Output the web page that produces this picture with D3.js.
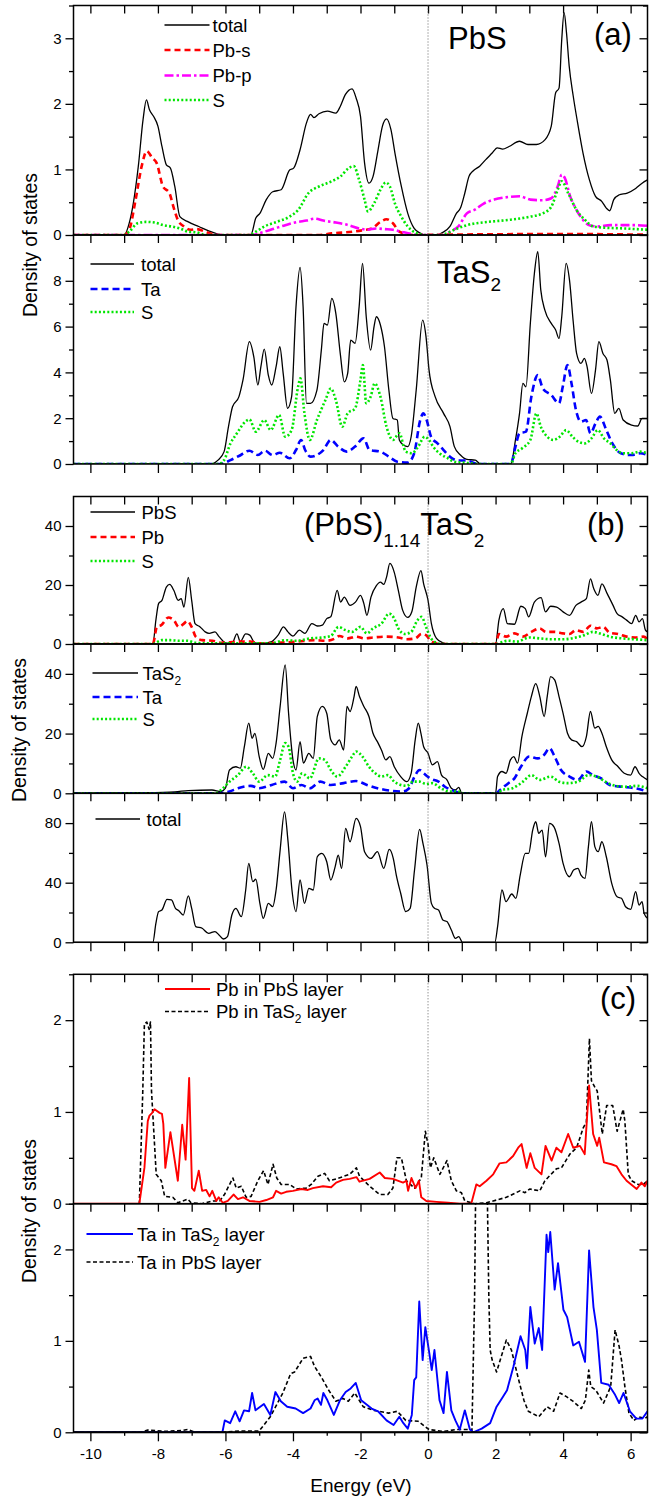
<!DOCTYPE html>
<html>
<head>
<meta charset="utf-8">
<script src="https://cdn.jsdelivr.net/npm/d3@7"></script>
<style>
  body { margin: 0; background: #fff; }
  svg { display: block; font-family: "Liberation Sans", Arial, sans-serif; }
</style>
</head>
<body>
<svg id="chart" width="663" height="1496"></svg>
<script>
// ---- data: [energy (eV), density of states] ----

// (a) PbS
const pbsTotal = [[-10.5,0],[-9.0,0],[-8.85,0.18],[-8.73,0.48],[-8.58,1.05],[-8.44,1.76],[-8.34,2.06],[-8.25,1.91],[-8.13,1.81],[-8.0,1.66],[-7.88,1.35],[-7.75,1.07],[-7.63,1.02],[-7.5,0.74],[-7.35,0.28],[-7.1,0.2],[-6.79,0.13],[-6.48,0.06],[-6.23,0.015],[-6.1,0],[-5.25,0],[-5.1,0.26],[-4.98,0.33],[-4.79,0.54],[-4.6,0.66],[-4.35,0.69],[-4.1,0.99],[-3.98,1.02],[-3.79,1.3],[-3.6,1.71],[-3.48,1.84],[-3.38,1.79],[-3.23,1.85],[-2.98,1.89],[-2.73,1.86],[-2.6,1.96],[-2.45,2.14],[-2.25,2.23],[-2.13,2.09],[-2.0,1.81],[-1.88,1.1],[-1.75,0.79],[-1.63,0.89],[-1.48,1.3],[-1.35,1.66],[-1.23,1.77],[-1.1,1.61],[-0.98,1.25],[-0.79,0.74],[-0.6,0.33],[-0.41,0.1],[-0.23,0.03],[-0.1,0],[0.3,0],[0.4,0.03],[0.65,0.13],[0.84,0.33],[0.96,0.41],[1.09,0.64],[1.21,0.89],[1.34,0.98],[1.53,1.05],[1.71,1.15],[1.9,1.25],[2.05,1.33],[2.21,1.31],[2.4,1.35],[2.71,1.43],[2.96,1.38],[3.21,1.38],[3.46,1.45],[3.65,1.66],[3.78,2.17],[3.88,2.24],[3.96,2.98],[4.03,3.39],[4.1,3.09],[4.18,2.58],[4.3,2.12],[4.43,1.71],[4.59,1.25],[4.78,0.84],[4.96,0.59],[5.15,0.51],[5.28,0.41],[5.38,0.37],[5.5,0.54],[5.65,0.61],[5.9,0.64],[6.15,0.71],[6.34,0.79],[6.5,0.84]];
const pbsPbS = [[-10.5,0],[-9.0,0],[-8.85,0.08],[-8.66,0.54],[-8.48,1.05],[-8.33,1.28],[-8.16,1.17],[-8.04,1.1],[-7.85,0.74],[-7.66,0.64],[-7.54,0.43],[-7.41,0.23],[-7.23,0.13],[-7.04,0.08],[-6.85,0.09],[-6.6,0.05],[-6.35,0.01],[-6.2,0],[-3.2,0],[-2.85,0.025],[-2.23,0.05],[-1.85,0.08],[-1.66,0.1],[-1.41,0.2],[-1.23,0.24],[-1.04,0.18],[-0.85,0.05],[-0.6,0.01],[-0.4,0],[0.5,0.005],[4.0,0.015],[6.5,0.005]];
const pbsPbP = [[-10.5,0],[-5.2,0],[-4.98,0.03],[-4.6,0.09],[-4.23,0.15],[-3.85,0.2],[-3.6,0.22],[-3.35,0.25],[-3.1,0.22],[-2.73,0.19],[-2.35,0.15],[-2.04,0.1],[-1.79,0.08],[-1.54,0.1],[-1.29,0.09],[-1.04,0.08],[-0.79,0.05],[-0.48,0.015],[-0.3,0],[0.45,0],[0.65,0.05],[0.9,0.13],[1.15,0.33],[1.4,0.39],[1.65,0.48],[1.96,0.54],[2.4,0.58],[2.71,0.59],[3.03,0.54],[3.4,0.53],[3.65,0.56],[3.84,0.74],[3.96,0.92],[4.05,0.87],[4.21,0.59],[4.4,0.38],[4.59,0.23],[4.78,0.15],[5.03,0.13],[5.4,0.15],[5.78,0.15],[6.15,0.15],[6.5,0.14]];
const pbsS = [[-10.5,0],[-9.0,0],[-8.85,0.05],[-8.6,0.18],[-8.35,0.2],[-8.1,0.19],[-7.85,0.15],[-7.6,0.13],[-7.35,0.1],[-7.1,0.05],[-6.85,0.04],[-6.6,0],[-5.3,0],[-5.1,0.05],[-4.85,0.13],[-4.48,0.2],[-4.1,0.28],[-3.85,0.38],[-3.54,0.64],[-3.23,0.74],[-2.85,0.82],[-2.6,0.89],[-2.35,1.02],[-2.2,1.05],[-2.04,0.84],[-1.88,0.54],[-1.78,0.36],[-1.6,0.48],[-1.41,0.69],[-1.25,0.8],[-1.13,0.74],[-0.98,0.48],[-0.79,0.28],[-0.6,0.13],[-0.35,0.03],[-0.1,0],[0.35,0],[0.53,0.02],[0.78,0.08],[1.15,0.15],[1.78,0.2],[2.4,0.23],[3.03,0.28],[3.4,0.33],[3.65,0.43],[3.84,0.69],[3.96,0.82],[4.15,0.64],[4.4,0.38],[4.65,0.23],[4.9,0.13],[5.28,0.11],[5.78,0.1],[6.15,0.09],[6.5,0.08]];

// (a) TaS2
const tas2Total = [[-10.5,0],[-6.45,0],[-6.22,0.17],[-6.04,0.54],[-5.91,1.63],[-5.79,2.5],[-5.6,2.94],[-5.48,3.67],[-5.29,5.34],[-5.16,4.68],[-5.04,3.45],[-4.95,4.25],[-4.85,5.02],[-4.73,3.88],[-4.63,3.45],[-4.5,4.25],[-4.39,5.12],[-4.29,3.96],[-4.16,2.43],[-4.04,2.94],[-3.91,6.87],[-3.79,8.58],[-3.7,6.87],[-3.6,2.65],[-3.48,2.65],[-3.29,3.23],[-3.16,4.97],[-3.08,6.14],[-2.98,6.07],[-2.85,7.23],[-2.73,6.57],[-2.6,4.83],[-2.48,3.59],[-2.38,3.96],[-2.29,5.41],[-2.16,5.27],[-2.04,6.87],[-1.94,8.76],[-1.83,6.43],[-1.7,4.97],[-1.6,5.99],[-1.53,6.43],[-1.41,6.07],[-1.29,5.12],[-1.16,3.23],[-1.04,1.99],[-0.91,1.92],[-0.85,1.05],[-0.73,0.83],[-0.6,0.76],[-0.5,1.19],[-0.35,3.23],[-0.16,6.28],[-0.06,5.56],[0.03,4.1],[0.21,2.94],[0.46,2.21],[0.65,1.63],[0.78,0.76],[0.96,0.39],[1.15,0.2],[1.4,0.17],[1.55,0],[2.45,0],[2.59,1.05],[2.71,2.21],[2.81,3.52],[2.9,3.37],[3.03,6.14],[3.15,8.32],[3.25,9.27],[3.34,7.59],[3.46,6.72],[3.65,6.14],[3.78,5.85],[3.88,5.48],[3.96,6.43],[4.09,8.76],[4.19,8.03],[4.3,6.21],[4.4,4.83],[4.53,4.39],[4.63,4.61],[4.71,4.25],[4.84,3.08],[4.96,4.1],[5.06,5.34],[5.18,4.83],[5.3,4.54],[5.4,3.67],[5.53,2.21],[5.65,2.43],[5.78,1.92],[6.03,1.7],[6.21,1.66],[6.34,1.99],[6.5,1.99]];
const tas2Ta = [[-10.5,0],[-6.15,0],[-5.85,0.17],[-5.6,0.35],[-5.29,0.58],[-5.04,0.39],[-4.83,0.58],[-4.6,0.39],[-4.39,0.49],[-4.1,0.25],[-3.91,0.61],[-3.76,1.05],[-3.64,0.61],[-3.48,0.32],[-3.1,0.61],[-2.88,1.05],[-2.66,0.76],[-2.41,0.54],[-2.16,0.76],[-1.91,1.12],[-1.73,0.61],[-1.41,0.54],[-1.16,0.32],[-0.91,0.1],[-0.6,0.06],[-0.41,0.47],[-0.23,1.92],[-0.14,2.21],[-0.04,1.92],[0.09,1.19],[0.28,0.9],[0.46,0.61],[0.65,0.32],[0.9,0.15],[1.15,0.15],[1.34,0.06],[1.45,0],[2.45,0],[2.59,0.76],[2.71,1.34],[2.9,1.41],[3.06,2.94],[3.25,3.88],[3.4,3.3],[3.65,3.01],[3.88,2.65],[3.99,3.37],[4.13,4.32],[4.25,3.52],[4.38,2.36],[4.53,1.85],[4.68,1.92],[4.81,1.34],[4.96,1.77],[5.09,2.07],[5.28,1.48],[5.46,0.9],[5.71,0.47],[6.03,0.39],[6.28,0.47],[6.5,0.39]];
const tas2S = [[-10.5,0],[-6.2,0],[-6.04,0.17],[-5.85,0.9],[-5.66,1.34],[-5.41,1.85],[-5.29,1.95],[-5.1,1.41],[-4.85,1.92],[-4.66,1.48],[-4.41,2.14],[-4.23,1.19],[-4.04,1.48],[-3.85,3.37],[-3.78,3.74],[-3.66,2.21],[-3.5,1.05],[-3.29,1.92],[-3.04,2.79],[-2.88,3.3],[-2.73,2.79],[-2.54,1.63],[-2.38,2.21],[-2.16,2.43],[-2.0,3.67],[-1.93,4.32],[-1.83,2.65],[-1.7,2.94],[-1.58,3.52],[-1.41,2.94],[-1.23,1.63],[-1.04,1.05],[-0.85,1.34],[-0.66,0.54],[-0.48,0.47],[-0.29,0.76],[-0.1,1.19],[0.03,1.05],[0.15,0.76],[0.34,0.47],[0.59,0.25],[0.78,0.1],[1.03,0.06],[1.28,0.03],[1.45,0],[2.45,0],[2.59,0.47],[2.78,0.68],[3.03,1.05],[3.21,2.21],[3.34,1.63],[3.53,1.19],[3.71,1.05],[3.9,1.19],[4.09,1.48],[4.28,1.19],[4.46,0.97],[4.65,0.9],[4.84,1.12],[5.03,1.48],[5.21,1.12],[5.4,0.9],[5.59,0.61],[5.78,0.47],[6.03,0.47],[6.28,0.54],[6.5,0.47]];

// (b) (PbS)1.14TaS2 : PbS part
const bPbsTotal = [[-10.5,0],[-8.15,0],[-8.06,8.1],[-7.98,13.7],[-7.88,14.8],[-7.75,19.3],[-7.65,20.2],[-7.53,18.2],[-7.4,14.8],[-7.31,15.4],[-7.23,12.5],[-7.1,22.6],[-7.0,14.8],[-6.9,6.9],[-6.75,5.8],[-6.6,4.1],[-6.48,3.6],[-6.31,4.1],[-6.19,2.5],[-6.0,0.4],[-5.81,0.2],[-5.66,3.4],[-5.56,0.8],[-5.4,3.4],[-5.28,3.0],[-5.13,0.4],[-4.88,0.2],[-4.63,0.8],[-4.44,3.0],[-4.28,5.8],[-4.15,4.1],[-4.0,2.7],[-3.81,4.7],[-3.65,3.6],[-3.44,6.9],[-3.28,6.1],[-3.13,6.4],[-3.0,8.6],[-2.88,9.2],[-2.69,18.2],[-2.59,14.2],[-2.48,15.9],[-2.31,13.1],[-2.15,14.2],[-2.0,16.5],[-1.9,13.7],[-1.81,9.7],[-1.69,15.9],[-1.53,19.8],[-1.41,21.0],[-1.31,20.2],[-1.23,22.6],[-1.13,27.3],[-1.0,24.3],[-0.88,18.2],[-0.75,11.4],[-0.6,9.0],[-0.48,10.9],[-0.35,19.3],[-0.21,24.9],[-0.13,20.4],[0.0,14.8],[0.1,6.9],[0.25,1.9],[0.44,0.4],[0.6,0],[2.0,0],[2.1,8.1],[2.23,12.0],[2.35,6.9],[2.56,6.7],[2.75,12.8],[2.88,12.0],[2.98,9.2],[3.15,14.2],[3.35,15.7],[3.48,10.9],[3.63,12.8],[3.81,12.5],[4.0,10.9],[4.19,9.7],[4.38,13.1],[4.53,14.2],[4.69,15.4],[4.81,22.1],[4.91,18.7],[5.03,16.5],[5.15,20.4],[5.31,17.0],[5.48,13.1],[5.6,10.3],[5.75,9.2],[5.88,8.1],[6.03,6.9],[6.15,9.7],[6.25,7.5],[6.35,8.6],[6.44,4.7],[6.5,4.1]];
const bPb = [[-10.5,0],[-8.15,0],[-8.03,5.8],[-7.9,6.4],[-7.69,9.0],[-7.53,8.1],[-7.38,5.8],[-7.23,6.9],[-7.13,7.8],[-7.0,5.8],[-6.88,2.5],[-6.69,1.3],[-6.38,1.1],[-6.13,0.4],[-5.63,0.8],[-5.25,0.8],[-5.0,0.2],[-4.5,0.4],[-3.88,0.8],[-3.38,1.3],[-3.0,1.1],[-2.75,1.9],[-2.63,2.7],[-2.38,1.9],[-2.13,2.5],[-1.88,1.9],[-1.63,2.2],[-1.25,2.5],[-0.88,2.2],[-0.63,1.6],[-0.38,1.9],[-0.19,3.4],[-0.06,3.0],[0.06,1.3],[0.25,0.2],[0.4,0],[2.0,0],[2.1,3.4],[2.31,2.5],[2.56,3.6],[2.81,2.5],[3.06,4.1],[3.31,5.3],[3.5,4.1],[3.75,4.1],[4.0,3.6],[4.19,3.4],[4.38,4.7],[4.6,4.1],[4.81,6.2],[5.0,5.3],[5.19,5.8],[5.38,3.8],[5.63,3.4],[5.88,2.5],[6.13,2.2],[6.38,2.5],[6.5,1.6]];
const bPbsS = [[-10.5,0],[-8.15,0],[-8.0,0.8],[-7.88,1.3],[-7.63,1.3],[-7.38,1.1],[-7.13,1.1],[-6.88,0.4],[-6.38,0.2],[-4.63,0.2],[-4.25,1.3],[-3.88,1.1],[-3.5,1.9],[-3.13,2.2],[-2.88,2.7],[-2.65,5.8],[-2.44,4.7],[-2.25,4.1],[-2.0,5.8],[-1.81,3.6],[-1.63,5.3],[-1.38,6.9],[-1.15,10.3],[-1.0,8.6],[-0.88,5.3],[-0.69,3.4],[-0.5,4.1],[-0.31,8.1],[-0.19,9.2],[-0.06,5.8],[0.06,2.5],[0.25,0.4],[0.4,0],[2.05,0],[2.13,0.4],[2.38,1.1],[2.63,0.8],[3.0,2.2],[3.31,1.9],[3.63,1.6],[4.0,1.6],[4.38,2.2],[4.63,3.0],[4.88,4.1],[5.13,3.4],[5.38,2.5],[5.75,1.9],[6.13,1.6],[6.5,1.3]];

// (b) TaS2 part
const bTas2Total = [[-10.5,0],[-8.5,0.2],[-7.5,0.5],[-7.1,0.9],[-6.4,1.1],[-6.13,0.6],[-6.0,1.7],[-5.88,7.8],[-5.69,8.9],[-5.56,8.4],[-5.44,15.6],[-5.31,23.5],[-5.21,18.4],[-5.13,20.1],[-5.0,12.3],[-4.88,8.0],[-4.73,13.4],[-4.6,11.7],[-4.5,16.8],[-4.38,29.1],[-4.23,43.0],[-4.13,26.8],[-4.0,11.2],[-3.91,7.8],[-3.79,17.3],[-3.69,10.1],[-3.53,13.4],[-3.4,11.7],[-3.28,25.7],[-3.13,29.1],[-3.0,26.8],[-2.88,17.9],[-2.75,16.2],[-2.63,17.9],[-2.5,14.5],[-2.4,29.1],[-2.31,27.4],[-2.19,32.4],[-2.13,35.8],[-2.03,32.4],[-1.9,29.1],[-1.75,25.7],[-1.63,20.1],[-1.5,17.3],[-1.38,14.5],[-1.25,11.2],[-1.13,12.3],[-1.0,8.9],[-0.81,5.6],[-0.63,3.9],[-0.5,6.7],[-0.38,17.9],[-0.29,23.5],[-0.21,20.1],[-0.13,15.6],[0.0,13.4],[0.13,9.5],[0.28,10.6],[0.4,6.1],[0.56,4.5],[0.69,1.7],[0.81,1.1],[0.91,2.0],[1.0,0],[2.0,0],[2.06,5.6],[2.19,7.3],[2.31,6.7],[2.44,11.2],[2.54,12.3],[2.65,10.1],[2.78,19.0],[2.94,26.8],[3.06,32.4],[3.19,36.7],[3.31,32.4],[3.44,25.7],[3.53,32.4],[3.63,39.1],[3.75,38.0],[3.88,32.4],[4.0,26.8],[4.13,20.1],[4.25,17.9],[4.4,17.3],[4.56,15.6],[4.69,19.0],[4.81,27.4],[4.94,21.8],[5.04,22.4],[5.15,20.1],[5.28,15.6],[5.44,11.2],[5.63,8.9],[5.81,6.7],[6.0,6.1],[6.13,8.9],[6.25,6.7],[6.35,5.6],[6.5,4.5]];
const bTa = [[-10.5,0],[-6.2,0],[-5.88,0.6],[-5.63,1.7],[-5.25,2.5],[-5.0,1.7],[-4.63,2.8],[-4.25,3.9],[-4.0,1.7],[-3.75,2.8],[-3.5,1.7],[-3.19,3.9],[-2.88,2.8],[-2.5,3.4],[-2.13,4.1],[-1.81,2.8],[-1.5,1.7],[-1.13,0.9],[-0.75,0.6],[-0.56,1.7],[-0.4,5.6],[-0.25,7.8],[-0.13,6.7],[0.06,5.0],[0.31,3.9],[0.5,2.2],[0.75,0.9],[1.0,0],[2.0,0],[2.13,1.1],[2.38,3.4],[2.56,5.0],[2.75,8.9],[3.0,12.3],[3.25,11.7],[3.44,12.9],[3.6,15.1],[3.75,12.3],[3.94,7.8],[4.19,5.6],[4.44,4.5],[4.69,7.3],[4.88,6.1],[5.13,5.0],[5.38,2.8],[5.75,2.2],[6.13,1.7],[6.5,0.6]];
const bTas2S = [[-10.5,0],[-6.3,0],[-6.13,1.1],[-5.88,3.9],[-5.63,6.1],[-5.38,8.9],[-5.19,6.7],[-5.0,3.9],[-4.75,6.1],[-4.53,5.6],[-4.38,11.2],[-4.23,16.8],[-4.13,15.6],[-4.0,6.7],[-3.88,3.9],[-3.73,6.7],[-3.5,5.0],[-3.23,11.7],[-3.06,11.2],[-2.88,7.8],[-2.69,5.6],[-2.44,8.9],[-2.25,12.3],[-2.13,14.0],[-1.94,12.3],[-1.75,8.9],[-1.56,6.7],[-1.38,5.6],[-1.19,6.1],[-1.0,3.9],[-0.81,2.8],[-0.63,2.5],[-0.44,3.9],[-0.25,3.9],[-0.06,3.1],[0.13,3.4],[0.38,1.7],[0.63,0.6],[0.88,0.6],[1.05,0],[2.05,0],[2.19,1.1],[2.5,1.7],[2.81,3.9],[3.06,6.1],[3.31,4.5],[3.63,5.6],[3.88,3.9],[4.13,3.4],[4.44,3.9],[4.75,6.1],[5.0,5.6],[5.25,3.9],[5.56,2.5],[5.88,2.2],[6.19,2.5],[6.5,1.7]];

// (b) total
const bTotal = [[-10.5,0],[-8.15,0],[-8.06,12.7],[-7.98,20.6],[-7.88,21.7],[-7.73,28.8],[-7.6,28.4],[-7.48,22.8],[-7.38,21.2],[-7.25,18.3],[-7.1,31.1],[-7.0,22.8],[-6.88,10.5],[-6.69,9.4],[-6.5,6.0],[-6.31,7.2],[-6.19,4.9],[-6.06,2.2],[-5.94,3.8],[-5.81,18.3],[-5.69,22.8],[-5.53,17.2],[-5.4,35.1],[-5.31,53.0],[-5.19,40.7],[-5.1,42.3],[-4.98,26.1],[-4.88,16.1],[-4.73,26.1],[-4.6,23.9],[-4.5,35.1],[-4.38,61.9],[-4.25,87.6],[-4.15,68.6],[-4.03,35.1],[-3.91,20.6],[-3.79,41.8],[-3.66,26.1],[-3.53,36.2],[-3.4,35.1],[-3.28,57.4],[-3.15,59.7],[-3.0,54.1],[-2.88,41.8],[-2.75,50.8],[-2.66,58.5],[-2.56,49.6],[-2.44,76.4],[-2.31,67.5],[-2.13,83.2],[-2.0,77.6],[-1.88,60.8],[-1.69,56.3],[-1.5,60.8],[-1.31,49.6],[-1.15,62.3],[-1.03,56.3],[-0.94,45.1],[-0.81,32.9],[-0.66,20.6],[-0.53,22.8],[-0.4,48.5],[-0.25,75.8],[-0.15,66.4],[-0.03,51.9],[0.1,26.1],[0.19,22.8],[0.31,21.7],[0.44,15.0],[0.56,13.9],[0.69,8.3],[0.81,2.7],[0.91,3.8],[1.02,0],[1.98,0],[2.06,10.5],[2.19,35.1],[2.31,27.3],[2.48,32.4],[2.6,29.5],[2.73,45.1],[2.88,59.7],[2.98,59.7],[3.1,75.3],[3.19,80.9],[3.28,73.1],[3.38,75.3],[3.48,57.4],[3.6,79.8],[3.73,77.5],[3.88,66.4],[4.0,53.0],[4.19,44.0],[4.31,48.5],[4.44,49.6],[4.53,45.1],[4.65,42.9],[4.75,64.2],[4.84,80.9],[4.94,64.2],[5.04,60.8],[5.15,67.5],[5.28,57.4],[5.44,39.6],[5.6,30.6],[5.73,29.5],[5.85,23.9],[6.0,22.1],[6.15,34.0],[6.25,25.0],[6.34,27.3],[6.4,19.4],[6.5,16.1]];

// (c) Pb
const pbInPbS = [[-10.5,0],[-8.55,0],[-8.4,0.39],[-8.3,0.9],[-8.25,0.96],[-8.17,0.99],[-8.1,1.03],[-7.95,0.99],[-7.88,0.98],[-7.84,0.87],[-7.78,0.39],[-7.63,0.78],[-7.41,0.25],[-7.28,0.86],[-7.18,0.48],[-7.075,1.37],[-6.99,0.17],[-6.92,0.14],[-6.79,0.36],[-6.69,0.14],[-6.57,0.15],[-6.47,0.08],[-6.39,0.14],[-6.27,0.03],[-6.2,0.07],[-6.08,0.01],[-5.93,0.03],[-5.76,0.1],[-5.63,0.05],[-5.48,0.07],[-5.29,0.03],[-4.99,0.02],[-4.79,0.04],[-4.59,0.07],[-4.5,0.14],[-4.35,0.11],[-4.2,0.13],[-4.0,0.14],[-3.75,0.16],[-3.56,0.15],[-3.41,0.17],[-3.11,0.19],[-2.87,0.18],[-2.72,0.23],[-2.52,0.26],[-2.32,0.27],[-2.12,0.29],[-2.03,0.24],[-1.73,0.27],[-1.43,0.34],[-1.28,0.28],[-1.04,0.27],[-0.74,0.23],[-0.64,0.25],[-0.59,0.14],[-0.49,0.28],[-0.37,0.17],[-0.27,0.25],[-0.2,0.07],[-0.05,0.03],[0.25,0.02],[0.59,0.01],[0.94,0],[1.28,0],[1.43,0.21],[1.53,0.19],[1.73,0.25],[1.93,0.32],[2.12,0.44],[2.32,0.45],[2.52,0.52],[2.67,0.61],[2.77,0.65],[2.92,0.39],[3.03,0.55],[3.16,0.39],[3.36,0.32],[3.48,0.63],[3.66,0.47],[3.8,0.61],[3.95,0.56],[4.15,0.76],[4.3,0.61],[4.5,0.63],[4.64,0.54],[4.77,1.29],[4.89,0.76],[5.01,0.63],[5.07,0.72],[5.21,0.45],[5.43,0.43],[5.58,0.41],[5.73,0.32],[5.88,0.25],[6.18,0.16],[6.32,0.23],[6.42,0.19],[6.5,0.25]];
const pbInTaS2 = [[-10.5,0],[-8.55,0],[-8.45,1.2],[-8.4,1.96],[-8.33,1.98],[-8.26,1.9],[-8.22,1.98],[-8.19,1.23],[-8.05,0.32],[-7.9,0.25],[-7.8,0.08],[-7.56,0.07],[-7.41,0.01],[-7.11,0.05],[-7.02,0.01],[-6.7,0],[-6.37,0.03],[-6.17,0.03],[-6.03,0.1],[-5.78,0.28],[-5.68,0.17],[-5.53,0.19],[-5.39,0.07],[-5.24,0.08],[-5.04,0.25],[-4.87,0.36],[-4.74,0.21],[-4.59,0.43],[-4.48,0.28],[-4.35,0.21],[-4.1,0.21],[-3.9,0.16],[-3.61,0.17],[-3.46,0.21],[-3.26,0.3],[-3.06,0.33],[-2.92,0.25],[-2.72,0.27],[-2.32,0.32],[-2.12,0.39],[-2.03,0.3],[-1.73,0.19],[-1.43,0.1],[-1.19,0.1],[-1.04,0.17],[-0.92,0.5],[-0.79,0.5],[-0.64,0.25],[-0.4,0.17],[-0.2,0.28],[-0.08,0.79],[0.0,0.65],[0.07,0.39],[0.17,0.5],[0.35,0.32],[0.56,0.47],[0.69,0.25],[0.84,0.14],[0.99,0.12],[1.09,0.03],[1.38,0],[1.73,0.01],[1.93,0.03],[2.32,0.07],[2.72,0.14],[2.87,0.12],[3.01,0.16],[3.31,0.14],[3.46,0.25],[3.8,0.38],[3.95,0.39],[4.2,0.54],[4.4,0.61],[4.6,0.83],[4.69,0.89],[4.78,1.8],[4.84,1.34],[4.94,1.27],[5.01,1.23],[5.16,0.76],[5.29,1.07],[5.47,1.07],[5.6,0.79],[5.78,1.03],[5.83,0.9],[5.93,0.32],[6.03,0.25],[6.22,0.21],[6.37,0.21],[6.5,0.25]];

// (c) Ta
const taInTaS2 = [[-10.5,0],[-6.09,0],[-6.02,0.13],[-5.86,0.1],[-5.71,0.23],[-5.58,0.12],[-5.45,0.24],[-5.3,0.23],[-5.21,0.43],[-5.11,0.24],[-4.86,0.31],[-4.67,0.19],[-4.52,0.44],[-4.36,0.34],[-4.17,0.28],[-3.92,0.26],[-3.7,0.21],[-3.48,0.26],[-3.36,0.35],[-3.27,0.37],[-3.17,0.3],[-3.1,0.43],[-2.98,0.35],[-2.79,0.19],[-2.61,0.35],[-2.44,0.44],[-2.29,0.48],[-2.14,0.54],[-1.98,0.35],[-1.67,0.26],[-1.48,0.23],[-1.23,0.13],[-1.02,0.08],[-0.85,0.17],[-0.73,0.1],[-0.6,0.04],[-0.48,0.19],[-0.41,0.57],[-0.35,0.6],[-0.26,1.43],[-0.16,0.79],[-0.08,1.15],[0.04,0.86],[0.11,0.68],[0.19,0.9],[0.34,0.35],[0.46,0.21],[0.56,0.66],[0.69,0.24],[0.81,0.13],[0.94,0.03],[1.09,0.24],[1.24,0.03],[1.34,0],[1.59,0.04],[1.84,0.1],[2.03,0.28],[2.22,0.39],[2.34,0.46],[2.53,0.72],[2.74,1.05],[2.88,0.9],[2.93,0.7],[3.03,1.37],[3.16,0.97],[3.28,1.14],[3.38,0.9],[3.51,2.16],[3.56,1.97],[3.62,2.19],[3.75,1.56],[3.85,1.85],[4.01,1.34],[4.12,1.26],[4.3,0.95],[4.47,0.99],[4.65,0.77],[4.77,1.99],[4.9,1.37],[5.0,1.12],[5.13,0.54],[5.35,0.52],[5.54,0.41],[5.66,0.32],[5.79,0.43],[5.98,0.23],[6.17,0.15],[6.35,0.15],[6.5,0.23]];
const taInPbS = [[-10.5,0],[-8.5,0],[-8.3,0.025],[-7.8,0.01],[-7.3,0.02],[-7.12,0.03],[-6.9,0],[-6.1,0],[-5.6,0.015],[-5.0,0.015],[-4.86,0.08],[-4.67,0.17],[-4.3,0.43],[-4.07,0.64],[-3.95,0.66],[-3.7,0.81],[-3.48,0.83],[-3.36,0.72],[-3.17,0.61],[-2.94,0.46],[-2.73,0.34],[-2.52,0.37],[-2.36,0.34],[-2.17,0.43],[-1.92,0.28],[-1.6,0.24],[-1.17,0.21],[-0.91,0.23],[-0.66,0.13],[-0.29,0.12],[0.03,0.03],[0.46,0.01],[0.84,0.03],[1.22,0.03],[1.3,0.02],[1.38,1.5],[1.42,3.0],[1.6,3.5],[1.74,3.0],[1.8,1.5],[1.84,0.9],[1.9,0.79],[2.03,0.66],[2.32,1.01],[2.47,0.9],[2.66,0.61],[2.84,0.35],[2.97,0.23],[3.28,0.17],[3.53,0.28],[3.72,0.23],[3.91,0.43],[4.1,0.39],[4.29,0.34],[4.54,0.26],[4.66,0.35],[4.76,0.68],[4.82,0.5],[4.97,0.46],[5.2,0.32],[5.41,0.5],[5.54,1.12],[5.66,0.94],[5.73,0.79],[5.83,0.5],[5.95,0.21],[6.1,0.13],[6.23,0.17],[6.42,0.15],[6.5,0.17]];

const energyLabels = [-10, -8, -6, -4, -2, 0, 2, 4, 6];

// ---- drawing ----
const FONT = '"Liberation Sans", Arial, sans-serif';
const x = d3.scaleLinear().domain([-10.5, 6.5]).range([73.5, 647.5]);
const svg = d3.select('#chart');

const styles = {
  total:     { stroke: '#000000', width: 1.3 },
  red:       { stroke: '#ff0000', width: 2.6, dash: '6,4' },
  magenta:   { stroke: '#ff00ff', width: 2.6, dash: '9,3,2.5,3' },
  green:     { stroke: '#00e600', width: 2.6, dash: '2,2.2' },
  blue:      { stroke: '#0000ff', width: 2.6, dash: '7,4' },
  redSolid:  { stroke: '#ff0000', width: 1.9 },
  blackDash: { stroke: '#000000', width: 1.6, dash: '4,2.5' },
  blueSolid: { stroke: '#0000ff', width: 1.9 }
};

const panels = [
  { id: 'a1', top: 5.5, bottom: 235, ymax: 3.5, major: [0, 1, 2, 3], minor: d3.range(0.5, 3.6, 1), curve: d3.curveMonotoneX,
    series: [[pbsTotal, 'total'], [pbsPbS, 'red'], [pbsPbP, 'magenta'], [pbsS, 'green']],
    legend: { x1: 164.5, x2: 209.5, tx: 212.5, rows: [25, 50, 75.5, 100],
      items: [['total', 'total'], ['Pb-s', 'red'], ['Pb-p', 'magenta'], ['S', 'green']] } },
  { id: 'a2', top: 235, bottom: 464, ymax: 10, major: [0, 2, 4, 6, 8], minor: [1, 3, 5, 7, 9], curve: d3.curveMonotoneX,
    series: [[tas2Total, 'total'], [tas2Ta, 'blue'], [tas2S, 'green']],
    legend: { x1: 90.5, x2: 134, tx: 141, rows: [264, 289, 312],
      items: [['total', 'total'], ['Ta', 'blue'], ['S', 'green']] } },
  { id: 'b1', top: 496.5, bottom: 644, ymax: 50, major: [0, 20, 40], minor: [10, 30], curve: d3.curveMonotoneX,
    series: [[bPbsTotal, 'total'], [bPb, 'red'], [bPbsS, 'green']],
    legend: { x1: 90.5, x2: 135, tx: 141.5, rows: [512, 537, 561],
      items: [['PbS', 'total'], ['Pb', 'red'], ['S', 'green']] } },
  { id: 'b2', top: 644, bottom: 793.3, ymax: 50, major: [0, 20, 40], minor: [10, 30], curve: d3.curveMonotoneX,
    series: [[bTas2Total, 'total'], [bTa, 'blue'], [bTas2S, 'green']],
    legend: { x1: 92.5, x2: 138, tx: 142.5, rows: [673, 697, 719],
      items: [['TaS|2', 'total'], ['Ta', 'blue'], ['S', 'green']] } },
  { id: 'b3', top: 793.3, bottom: 942.3, ymax: 100, major: [0, 40, 80], minor: [20, 60], curve: d3.curveMonotoneX,
    series: [[bTotal, 'total']],
    legend: { x1: 95.5, x2: 140, tx: 146.5, rows: [819], items: [['total', 'total']] } },
  { id: 'c1', top: 974.3, bottom: 1203.7, ymax: 2.5, major: [0, 1, 2], minor: [0.5, 1.5, 2.5], curve: d3.curveLinear,
    series: [[pbInTaS2, 'blackDash'], [pbInPbS, 'redSolid']],
    legend: { x1: 165, x2: 210, tx: 216, rows: [989, 1011.5],
      items: [['Pb in PbS layer', 'redSolid'], ['Pb in TaS|2| layer', 'blackDash']] } },
  { id: 'c2', top: 1203.7, bottom: 1432.3, ymax: 2.5, major: [0, 1, 2], minor: [0.5, 1.5, 2.5], curve: d3.curveLinear,
    series: [[taInPbS, 'blackDash'], [taInTaS2, 'blueSolid']],
    legend: { x1: 86.5, x2: 133, tx: 137, rows: [1234, 1262],
      items: [['Ta in TaS|2| layer', 'blueSolid'], ['Ta in PbS layer', 'blackDash']] } }
];

const groups = [
  { top: 5.5, bottom: 464, titleX: 37, titleY: 245 },
  { top: 496.5, bottom: 942.3, titleX: 26, titleY: 730 },
  { top: 974.3, bottom: 1432.3, titleX: 36, titleY: 1211 }
];

function applyStyle(sel, st) {
  sel.attr('fill', 'none')
    .attr('stroke', st.stroke)
    .attr('stroke-width', st.width)
    .attr('stroke-dasharray', st.dash || null)
    .attr('stroke-linejoin', 'round');
}

// text with "|" marking subscript parts
function richText(g, x0, y0, str, size, subSize, subDy) {
  const t = g.append('text').attr('x', x0).attr('y', y0)
    .attr('font-size', size).attr('font-family', FONT).attr('fill', '#000');
  let shifted = false;
  str.split('|').forEach((part, i) => {
    if (!part) return;
    if (i % 2) {
      t.append('tspan').attr('font-size', subSize).attr('dy', subDy).text(part);
      shifted = true;
    } else {
      t.append('tspan').attr('dy', shifted ? -subDy : null).text(part);
      shifted = false;
    }
  });
  return t;
}

function styleAxis(g) {
  g.select('.domain').remove();
  g.selectAll('line').attr('stroke', '#000').attr('stroke-width', 1.3);
  g.selectAll('text').attr('font-family', FONT).attr('font-size', 15).attr('fill', '#000');
  g.attr('font-family', null);
}

const allTicks = d3.range(-10, 7, 1);

panels.forEach(p => {
  const y = d3.scaleLinear().domain([0, p.ymax]).range([p.bottom, p.top]);
  const g = svg.append('g').attr('class', 'panel-' + p.id);

  g.append('clipPath').attr('id', 'clip-' + p.id)
    .append('rect').attr('x', x.range()[0]).attr('y', p.top)
    .attr('width', x.range()[1] - x.range()[0]).attr('height', p.bottom - p.top);

  const line = d3.line().x(d => x(d[0])).y(d => y(d[1])).curve(p.curve);
  const plot = g.append('g').attr('clip-path', `url(#clip-${p.id})`);
  p.series.forEach(([data, key]) => {
    plot.append('path').datum(data).attr('d', line).call(applyStyle, styles[key]);
  });

  // y axes: left outward, right inward
  g.append('g').attr('transform', `translate(${x.range()[0]},0)`)
    .call(d3.axisLeft(y).tickValues(p.major).tickSize(8).tickPadding(4).tickFormat(d => String(d)))
    .call(styleAxis);
  g.append('g').attr('transform', `translate(${x.range()[0]},0)`)
    .call(d3.axisLeft(y).tickValues(p.minor).tickSize(4.5).tickFormat(''))
    .call(styleAxis);
  g.append('g').attr('transform', `translate(${x.range()[1]},0)`)
    .call(d3.axisLeft(y).tickValues(p.major.concat(p.minor)).tickSize(-1).tickFormat(''))
    .call(styleAxis)
    .selectAll('.tick line').attr('x2', d => p.major.includes(d) ? -8 : -4.5);

  // x ticks on the top edge, pointing down
  g.append('g').attr('transform', `translate(0,${p.top})`)
    .call(d3.axisBottom(x).tickValues(allTicks).tickSize(8).tickFormat(''))
    .call(styleAxis);

  // legend
  const lg = g.append('g').attr('class', 'legend');
  p.legend.items.forEach(([label, key], i) => {
    const ry = p.legend.rows[i];
    lg.append('line').attr('x1', p.legend.x1).attr('x2', p.legend.x2)
      .attr('y1', ry).attr('y2', ry).call(applyStyle, styles[key]);
    richText(lg, p.legend.tx, ry + 6.5, label, 18.5, 12, 5);
  });

  // frame
  g.append('rect').attr('x', x.range()[0]).attr('y', p.top)
    .attr('width', x.range()[1] - x.range()[0]).attr('height', p.bottom - p.top)
    .attr('fill', 'none').attr('stroke', '#000').attr('stroke-width', 1.5);
});

// group bottoms, zero line, axis titles
groups.forEach((gr, i) => {
  svg.append('line').attr('x1', x(0)).attr('x2', x(0)).attr('y1', gr.top).attr('y2', gr.bottom)
    .attr('stroke', '#555').attr('stroke-width', 0.9).attr('stroke-dasharray', '1,2');

  if (i < 2) {
    svg.append('g').attr('transform', `translate(0,${gr.bottom})`)
      .call(d3.axisBottom(x).tickValues(allTicks).tickSize(9).tickFormat(''))
      .call(styleAxis);
  } else {
    svg.append('g').attr('transform', `translate(0,${gr.bottom})`)
      .call(d3.axisBottom(x).tickValues(allTicks.filter(v => v % 2 !== 0)).tickSize(3.5).tickFormat(''))
      .call(styleAxis);
    svg.append('g').attr('transform', `translate(0,${gr.bottom})`)
      .call(d3.axisBottom(x).tickValues(energyLabels).tickSize(9).tickPadding(7).tickFormat(d => String(d)))
      .call(styleAxis);
    svg.append('line').attr('x1', x.range()[0]).attr('x2', x.range()[1])
      .attr('y1', gr.bottom).attr('y2', gr.bottom).attr('stroke', '#000').attr('stroke-width', 2);
  }

  svg.append('text')
    .attr('transform', `translate(${gr.titleX},${gr.titleY}) rotate(-90)`)
    .attr('text-anchor', 'middle').attr('font-family', FONT).attr('font-size', 19.5)
    .text('Density of states');
});

svg.append('text').attr('x', 361).attr('y', 1492).attr('text-anchor', 'middle')
  .attr('font-family', FONT).attr('font-size', 19).text('Energy (eV)');

// panel labels
const big = svg.append('g');
richText(big, 448, 49, 'PbS', 31, 19, 8);
richText(big, 594, 45, '(a)', 31, 19, 8);
richText(big, 437, 283, 'TaS|2', 31, 19, 8);
richText(big, 304, 535, '(PbS)|1.14|TaS|2', 31, 19, 12);
richText(big, 587, 535, '(b)', 31, 19, 8);
richText(big, 600, 1009, '(c)', 31, 19, 8);
</script>
</body>
</html>
